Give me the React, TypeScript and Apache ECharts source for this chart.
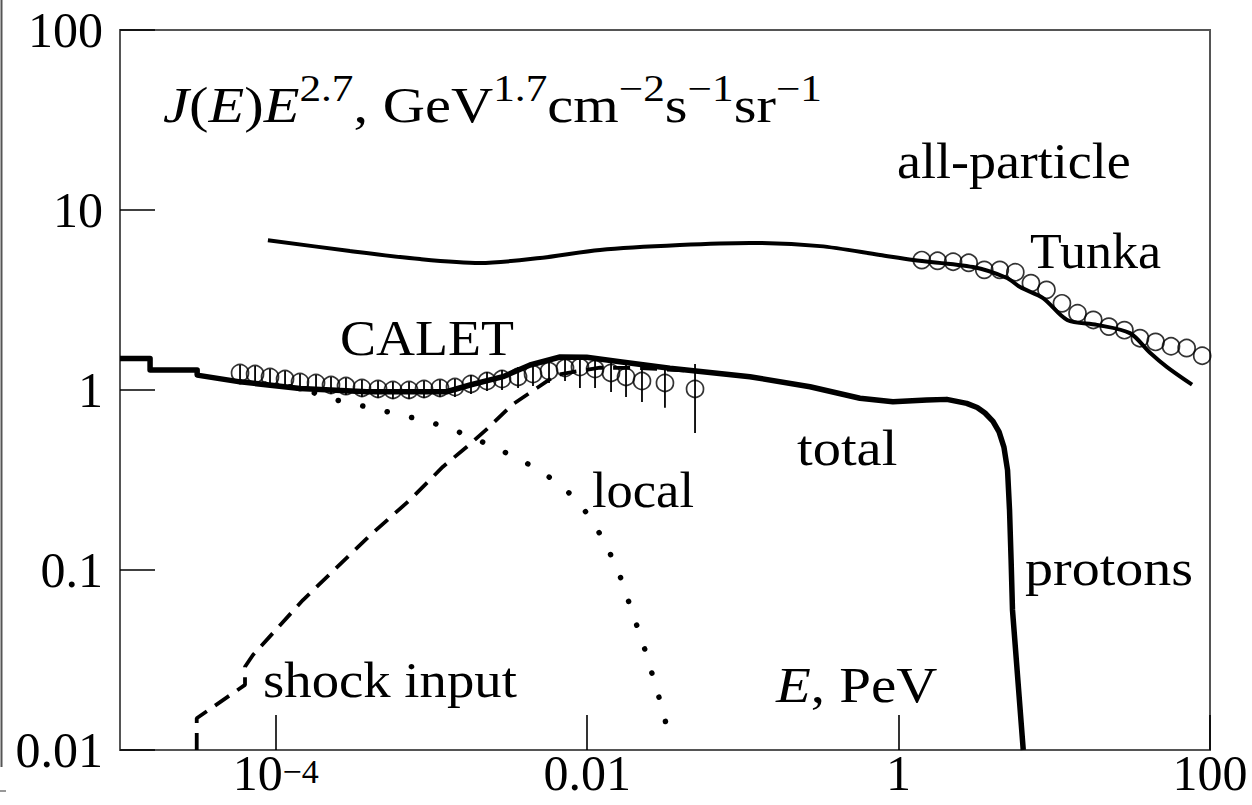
import { useEffect, useRef } from "react";
import * as echarts from "echarts";

const FONT = '"Liberation Serif", "Times New Roman", serif';
const FS = 50;

// Energy axis ticks (PeV) and flux axis labels
const xTickValues = [1e-4, 1e-2, 1, 100];
const xTickText: Record<string, string> = {
  "-4": "{b|10}{s|\u22124}",
  "-2": "{b|0.01}",
  "0": "{b|1}",
  "2": "{b|100}",
};
const yTickText: Record<string, string> = {
  "-2": "0.01",
  "-1": "0.1",
  "0": "1",
  "1": "10",
  "2": "100",
};

// All-particle spectrum model, J(E)E^2.7
const allParticleE = [
  8.91e-5, 3.0e-4, 8.45e-4, 2.05e-3, 4.98e-3, 1.21e-2, 3.94e-2, 0.111, 0.313, 0.76,
  1.24, 3.01, 4.97, 6.03, 8.47, 12.1, 18.8, 30.6, 41.2, 53.0, 76.7,
];
const allParticleJ = [
  6.8, 5.92, 5.34, 5.08, 5.41, 6.0, 6.39, 6.56, 6.3, 5.62,
  5.27, 4.82, 4.19, 3.73, 3.24, 2.45, 2.3, 2.07, 1.61, 1.34, 1.07,
];

// Tunka-133 all-particle data
const tunkaE = [
  1.41, 1.78, 2.24, 2.82, 3.55, 4.47, 5.62, 7.08, 8.91, 11.2,
  14.1, 17.8, 22.4, 28.2, 35.5, 44.7, 56.2, 70.8, 89.1,
];
const tunkaJ = [
  5.27, 5.22, 5.16, 5.09, 4.65, 4.65, 4.51, 3.92, 3.6, 3.03,
  2.67, 2.45, 2.25, 2.15, 1.94, 1.85, 1.75, 1.71, 1.55,
];

// Total proton spectrum (binned at low energy, hence the steps)
const totalE = [
  1.0e-5, 1.56e-5, 1.56e-5, 3.13e-5, 3.13e-5, 5.9e-5, 1.432e-4, 3.84e-4, 1.253e-3, 1.77e-3,
  2.88e-3, 4.3e-3, 6.7e-3, 9.93e-3, 1.626e-2, 3.4e-2, 0.111, 0.27, 0.565, 0.92,
  1.517, 2.04, 2.74, 3.2, 3.59, 4.04, 4.42, 4.75, 5.01, 5.16,
  5.28, 5.39, 6.32,
];
const totalJ = [
  1.496, 1.496, 1.29, 1.29, 1.21, 1.11, 1.02, 0.978, 0.978, 1.066,
  1.186, 1.377, 1.525, 1.52, 1.437, 1.32, 1.186, 1.042, 0.9, 0.861,
  0.88, 0.887, 0.843, 0.8, 0.745, 0.67, 0.585, 0.482, 0.359, 0.215,
  0.114, 0.06, 0.01,
];

// Local source contribution
const localE = [
  5.9e-5, 1.432e-4, 2.07e-4, 2.91e-4, 4.22e-4, 6.1e-4, 8.69e-4, 1.241e-3, 1.77e-3, 2.48e-3,
  3.49e-3, 4.77e-3, 6.31e-3, 8.11e-3, 1.013e-2, 1.21e-2, 1.4e-2, 1.6e-2, 1.78e-2, 1.98e-2,
  2.24e-2, 2.49e-2, 2.77e-2, 3.07e-2, 3.34e-2,
];
const localJ = [
  1.11, 1.022, 0.914, 0.849, 0.791, 0.732, 0.681, 0.621, 0.551, 0.484,
  0.421, 0.363, 0.308, 0.255, 0.202, 0.158, 0.124, 0.096, 0.0736, 0.0557,
  0.0412, 0.0305, 0.0223, 0.0164, 0.012,
];

// Shock-input contribution
const shockE = [
  3.11e-5, 3.11e-5, 6.35e-5, 6.35e-5, 7.14e-5, 1.496e-4, 4.04e-4, 7.28e-4, 1.186e-3, 1.69e-3,
  2.31e-3, 3.29e-3, 4.76e-3, 6.31e-3, 8.36e-3, 1.21e-2, 2.19e-2, 5.31e-2,
];
const shockJ = [
  0.01, 0.015, 0.023, 0.029, 0.0337, 0.0681, 0.156, 0.245, 0.375, 0.484,
  0.615, 0.826, 1.026, 1.21, 1.265, 1.33, 1.325, 1.27,
];

// CALET proton data with error bounds
const caletE = [
  5.9e-5, 7.37e-5, 9.19e-5, 1.148e-4, 1.432e-4, 1.815e-4, 2.265e-4, 2.826e-4, 3.58e-4, 4.54e-4,
  5.66e-4, 7.18e-4, 8.96e-4, 1.135e-3, 1.416e-3, 1.795e-3, 2.275e-3, 2.84e-3, 3.6e-3, 4.49e-3,
  5.69e-3, 7.21e-3, 8.99e-3, 1.124e-2, 1.424e-2, 1.777e-2, 2.25e-2, 3.16e-2, 4.93e-2,
];
const caletJ = [
  1.243, 1.227, 1.181, 1.151, 1.108, 1.094, 1.066, 1.052, 1.026, 1.013,
  1.0, 1.0, 1.013, 1.026, 1.039, 1.08, 1.122, 1.151, 1.181, 1.227,
  1.275, 1.325, 1.342, 1.308, 1.243, 1.181, 1.122, 1.094, 1.013,
];
const caletLo = [
  1.122, 1.107, 1.066, 1.026, 0.988, 0.975, 0.95, 0.938, 0.914, 0.903,
  0.891, 0.891, 0.903, 0.914, 0.914, 0.95, 0.987, 1.0, 1.026, 1.052,
  1.093, 1.122, 1.025, 1.026, 0.975, 0.914, 0.857, 0.797, 0.577,
];
const caletHi = [
  1.377, 1.36, 1.31, 1.275, 1.228, 1.212, 1.181, 1.166, 1.137, 1.122,
  1.108, 1.108, 1.122, 1.137, 1.151, 1.212, 1.259, 1.291, 1.343, 1.395,
  1.468, 1.545, 1.565, 1.545, 1.487, 1.412, 1.36, 1.36, 1.395,
];

const pairs = (xs: number[], ys: number[]) => xs.map((x, i) => [x, ys[i]]);
const expKey = (v: number) => String(Math.round(Math.log10(v)));

const base = { fontFamily: FONT, fontSize: FS, color: "#000" };
const richTick = {
  b: { ...base, lineHeight: 44, verticalAlign: "bottom" },
  s: { ...base, fontSize: 34, lineHeight: 24, verticalAlign: "top" },
};
const textRich = {
  i: { ...base, fontStyle: "italic", lineHeight: 60, verticalAlign: "bottom" },
  r: { ...base, lineHeight: 60, verticalAlign: "bottom" },
  s: { ...base, fontSize: 37, lineHeight: 48, verticalAlign: "top" },
};

// Plain annotation, widened slightly so the serif face spans the same run as the typeset original
function label(text: string, x: number, y: number, sx: number) {
  return {
    type: "text",
    x,
    y,
    scaleX: sx,
    style: { text, x: 0, y: 0, font: `${FS}px ${FONT}`, fill: "#000", align: "left", verticalAlign: "middle" },
    z: 10,
  };
}

export default function App() {
  const ref = useRef<HTMLDivElement>(null);

  useEffect(() => {
    if (!ref.current) return;
    const chart = echarts.init(ref.current, null, { renderer: "svg" });

    const option = {
      animation: false,
      backgroundColor: "#fff",
      grid: {
        left: 120,
        right: 42,
        top: 30,
        bottom: 55,
        show: true,
        borderColor: "#555",
        borderWidth: 2,
        backgroundColor: "transparent",
      },
      xAxis: {
        type: "log",
        logBase: 10,
        min: 1e-5,
        max: 100,
        axisLine: { show: true, lineStyle: { color: "#555", width: 2 } },
        axisTick: {
          show: true,
          inside: true,
          length: 35,
          customValues: xTickValues,
          lineStyle: { color: "#000", width: 1.6 },
        },
        axisLabel: {
          show: true,
          customValues: xTickValues,
          margin: 4,
          fontFamily: FONT,
          fontSize: FS,
          lineHeight: 44,
          color: "#000",
          formatter: (v: number) => xTickText[expKey(v)] ?? "",
          rich: richTick,
          showMinLabel: true,
          showMaxLabel: true,
        },
        splitLine: { show: false },
        minorTick: { show: false },
      },
      yAxis: {
        type: "log",
        logBase: 10,
        min: 0.01,
        max: 100,
        axisLine: { show: true, lineStyle: { color: "#555", width: 2 } },
        axisTick: {
          show: true,
          inside: true,
          length: 35,
          lineStyle: { color: "#000", width: 1.6 },
        },
        axisLabel: {
          show: true,
          margin: 17,
          fontFamily: FONT,
          fontSize: FS,
          color: "#000",
          formatter: (v: number) => yTickText[expKey(v)] ?? "",
        },
        splitLine: { show: false },
        minorTick: { show: false },
      },
      series: [
        {
          name: "shock input",
          type: "line",
          data: pairs(shockE, shockJ),
          showSymbol: false,
          symbol: "none",
          lineStyle: { color: "#000", width: 3.8, type: [17, 10] },
          z: 2,
        },
        {
          name: "local",
          type: "line",
          data: pairs(localE, localJ),
          showSymbol: false,
          symbol: "none",
          smooth: 0.3,
          lineStyle: { color: "#000", width: 5.5, type: [0.1, 25], cap: "round" },
          z: 2,
        },
        {
          name: "total",
          type: "line",
          data: pairs(totalE, totalJ),
          showSymbol: false,
          symbol: "none",
          lineStyle: { color: "#000", width: 5.5, join: "round" },
          z: 3,
        },
        {
          name: "all-particle",
          type: "line",
          data: pairs(allParticleE, allParticleJ),
          showSymbol: false,
          symbol: "none",
          smooth: 0.3,
          lineStyle: { color: "#000", width: 4 },
          z: 3,
        },
        {
          name: "CALET errors",
          type: "custom",
          data: caletE.map((e, i) => [e, caletLo[i], caletHi[i]]),
          encode: { x: 0, y: [1, 2] },
          renderItem: (_p: any, api: any) => {
            const lo = api.coord([api.value(0), api.value(1)]);
            const hi = api.coord([api.value(0), api.value(2)]);
            return {
              type: "line",
              shape: { x1: lo[0], y1: lo[1], x2: hi[0], y2: hi[1] },
              style: { stroke: "#000", lineWidth: 1.8 },
            };
          },
          z: 4,
        },
        {
          name: "CALET",
          type: "scatter",
          data: pairs(caletE, caletJ),
          symbol: "circle",
          symbolSize: 17,
          itemStyle: { color: "rgba(0,0,0,0)", borderColor: "#000", borderWidth: 1.7 },
          z: 4,
        },
        {
          name: "Tunka",
          type: "scatter",
          data: pairs(tunkaE, tunkaJ),
          symbol: "circle",
          symbolSize: 17,
          itemStyle: { color: "rgba(0,0,0,0)", borderColor: "#000", borderWidth: 1.7 },
          z: 4,
        },
      ],
      graphic: [
        {
          type: "text",
          x: 163,
          y: 70,
          scaleX: 1.17,
          style: {
            text:
              "{i|J}{r|(}{i|E}{r|)}{i|E}{s|2.7}{r|, GeV}{s|1.7}{r|cm}{s|\u22122}{r|s}{s|\u22121}{r|sr}{s|\u22121}",
            x: 0,
            y: 0,
            rich: textRich,
            align: "left",
            verticalAlign: "top",
          },
          z: 10,
        },
        label("all-particle", 897, 161, 1.08),
        label("Tunka", 1030, 251, 1.04),
        label("CALET", 340, 338, 1.08),
        label("total", 797, 448, 1.13),
        label("local", 592, 490, 1.05),
        label("protons", 1025, 568, 1.12),
        label("shock input", 263, 680, 1.095),
        {
          type: "text",
          x: 776,
          y: 650,
          scaleX: 1.14,
          style: {
            text: "{i|E}{r|, PeV}",
            x: 0,
            y: 0,
            rich: textRich,
            align: "left",
            verticalAlign: "top",
          },
          z: 10,
        },
        {
          type: "line",
          shape: { x1: 1.5, y1: 0, x2: 1.5, y2: 767 },
          style: { stroke: "#555", lineWidth: 2 },
        },
        {
          type: "line",
          shape: { x1: 0, y1: 791, x2: 6, y2: 791 },
          style: { stroke: "#777", lineWidth: 1.5 },
        },
      ],
    };

    chart.setOption(option as any);
    return () => chart.dispose();
  }, []);

  return (
    <div
      ref={ref}
      style={{ position: "fixed", left: 0, top: 0, width: 1252, height: 805, background: "#fff" }}
    />
  );
}
